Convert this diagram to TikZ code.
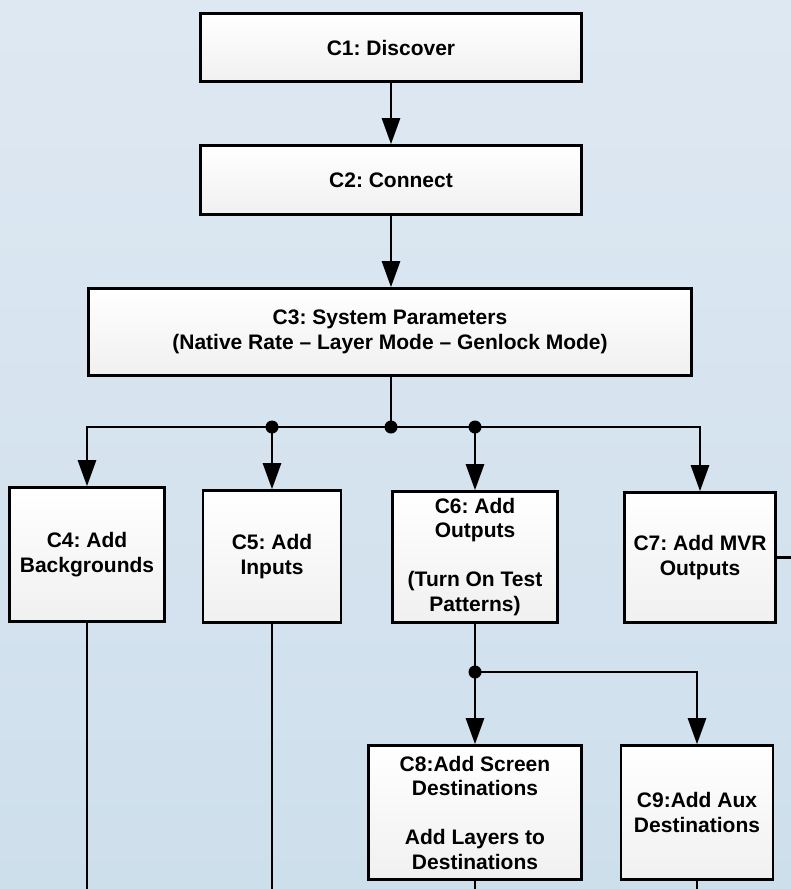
\documentclass[tikz,border=0pt]{standalone}
\usepackage{fontspec}
\setmainfont{Liberation Sans}
\usetikzlibrary{arrows.meta}
\definecolor{bgtop}{RGB}{222,232,242}
\definecolor{bgbot}{RGB}{206,223,236}
\definecolor{boxbot}{RGB}{240,240,240}
\frenchspacing
\begin{document}
\begin{tikzpicture}[x=1pt,y=-1pt,
  box/.style={draw=black, line width=2.6pt, top color=white, bottom color=boxbot,
    inner sep=0pt, align=center, font=\fontsize{21}{24.5}\selectfont\bfseries},
  conn/.style={line width=2.6pt},
  arr/.style={conn, -{Triangle[length=26pt,width=18pt]}},
  dot/.style={circle, fill=black, inner sep=0pt, minimum size=13pt}
]
\useasboundingbox (0,0) rectangle (791,889);
\shade[top color=bgtop, bottom color=bgbot] (0,0) rectangle (791,889);

\node[box, minimum width=381pt, minimum height=68pt] (c1) at (391,47.5) {C1: Discover};
\node[box, minimum width=381pt, minimum height=69pt] (c2) at (391,180) {C2: Connect};
\node[box, minimum width=603pt, minimum height=87pt] (c3) at (390,332)
  {C3: System Parameters\\(Native Rate – Layer Mode – Genlock Mode)};
\node[box, minimum width=155pt, minimum height=134pt] (c4) at (87,554.5) {C4: Add\\Backgrounds};
\node[box, minimum width=138pt, minimum height=132pt] (c5) at (272,556.5) {C5: Add\\Inputs};
\node[box, minimum width=165pt, minimum height=131pt] (c6) at (475,557)
  {C6: Add\\Outputs\\[24.5pt](Turn On Test\\Patterns)};
\node[box, minimum width=151pt, minimum height=130pt] (c7) at (700,557.5) {C7: Add MVR\\Outputs};
\node[box, minimum width=213pt, minimum height=134pt] (c8) at (475,812.5)
  {C8:Add Screen\\Destinations\\[24.5pt]Add Layers to\\Destinations};
\node[box, minimum width=152pt, minimum height=134pt] (c9) at (697,812.5) {C9:Add Aux\\Destinations};

\coordinate (j0) at (391,427);
\coordinate (j1) at (272,427);
\coordinate (j2) at (475,427);
\coordinate (j3) at (475,672);
\coordinate (e7) at (791,557.5);
\coordinate (b4) at (87,889);
\coordinate (b5) at (272,889);
\coordinate (b8) at (475,889);
\coordinate (b9) at (697,889);

\draw[arr] (c1) -- (c2);
\draw[arr] (c2.south) -- (c2.south |- c3.north);
\draw[conn] (c3.south -| j0) -- (j0);
\draw[arr] (j0) -| (c4.north);
\draw[arr] (j1) -- (c5.north);
\draw[arr] (j2) -- (c6.north);
\draw[arr] (j0) -| (c7.north);
\draw[conn] (c6.south) -- (j3);
\draw[arr] (j3) -- (c8.north);
\draw[arr] (j3) -| (c9.north);
\draw[conn] (c7.east) -- (e7);
\draw[conn] (c4.south) -- (b4);
\draw[conn] (c5.south) -- (b5);
\draw[conn] (c8.south) -- (b8);
\draw[conn] (c9.south) -- (b9);

\node[dot] (d0) at (j0) {};
\node[dot] (d1) at (j1) {};
\node[dot] (d2) at (j2) {};
\node[dot] (d3) at (j3) {};
\end{tikzpicture}
\end{document}
